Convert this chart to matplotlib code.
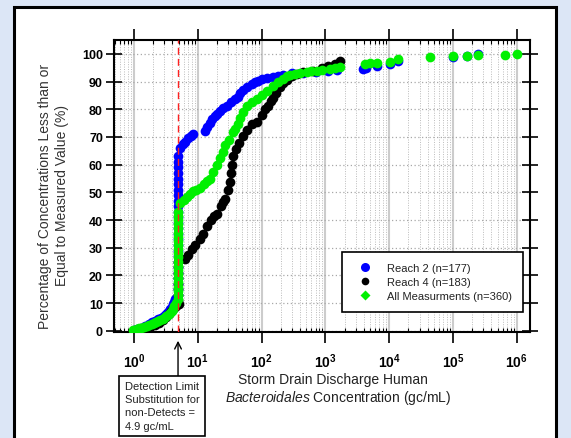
import matplotlib
matplotlib.use("Agg")
import matplotlib.pyplot as plt
import matplotlib.ticker as mticker
from matplotlib.lines import Line2D
from matplotlib.patches import Rectangle

# valeurs (concentration gc/mL, pourcentage cumule)
detection_limit = 4.9

reach2_low_conc = [1.0, 1.1, 1.3, 1.5, 1.7, 1.9, 2.1, 2.4, 2.65, 2.85, 3.1, 3.3, 3.5, 3.7, 3.9, 4.1, 4.3, 4.4]
reach2_low_pct = [0.5, 0.7, 1.2, 1.8, 2.5, 3.2, 3.7, 4.3, 4.7, 5.0, 5.8, 6.5, 7.2, 8.0, 8.8, 9.7, 10.6, 11.5]
reach2_nd_pct = [13, 15, 17, 19, 21, 23, 25, 27, 29, 31, 33, 35, 37, 39, 41, 43, 45, 47, 49, 51, 53, 55, 57, 59, 61, 63]
reach2_high_conc = [5.3, 5.9, 6.3, 7.0, 7.7, 8.4, 12.9, 14, 15.5, 17, 18.5, 20, 22, 25, 28.6, 33, 38, 42.7, 46, 52,
                    60, 70, 80, 88, 100, 120, 150, 180, 220, 300, 450, 700, 1100, 1500, 3900, 4300, 6500, 10200,
                    13800, 1.0e5, 1.66e5, 2.45e5]
reach2_high_pct = [66, 67.5, 68.2, 69.5, 70.5, 71.1, 72.2, 73.5, 75, 76.5, 77.5, 78.3, 79.5, 80.3, 81.2, 82.5, 83.8,
                   84.5, 86, 87, 88, 89, 89.8, 90.2, 90.8, 91.3, 91.8, 92, 92.5, 93, 93.2, 93.5, 93.8, 94.2, 94.6,
                   95, 95.6, 96.4, 97.3, 99.0, 99.4, 100]

reach4_low_conc = [1.2, 1.5, 1.8, 2.1, 2.5, 2.9, 3.2, 3.5, 3.8, 4.1, 4.4, 4.7, 5.0]
reach4_low_pct = [0.5, 1.0, 1.5, 2.2, 3.0, 4.0, 5.0, 6.0, 7.0, 7.8, 8.5, 9.2, 9.8]
reach4_nd_pct = [11, 13, 15, 17, 19, 21, 23, 25]
reach4_high_conc = [6.3, 7.0, 8.1, 9.2, 10.8, 12, 13.8, 16, 18, 20, 23, 25, 27, 30, 31.6, 33, 34.5, 35.5, 40, 45,
                    51, 60, 70, 85, 100, 115, 126, 140, 150, 170, 195, 220, 250, 300, 355, 450, 650, 900, 1100,
                    1400, 1700]
reach4_high_pct = [26, 27.5, 29.6, 31, 33, 35, 37.9, 40, 41.5, 42.2, 45, 46.5, 47.7, 51, 53.8, 57, 60, 63, 65.5,
                   68, 70.4, 72.5, 74.5, 75.5, 78, 80, 81.2, 83, 84, 86, 88, 89.5, 90.5, 92, 92.8, 93.4, 93.9,
                   94.8, 95.7, 96.5, 97.5]

all_low_conc = [0.95, 1.05, 1.1, 1.2, 1.3, 1.45, 1.6, 1.75, 1.9, 2.05, 2.2, 2.4, 2.6, 2.8, 3.0, 3.2, 3.45, 3.7,
                3.9, 4.1, 4.3, 4.5]
all_low_pct = [0.3, 0.5, 0.7, 0.9, 1.1, 1.3, 1.6, 2.0, 2.4, 2.8, 3.2, 3.6, 4.0, 4.4, 4.8, 5.3, 5.8, 6.5, 7.2, 8.0,
               9.0, 10.0]
all_nd_pct = [11.5, 13, 14.5, 16, 17.5, 19, 20.5, 22, 23.5, 25, 26.5, 28, 29.5, 31, 32.5, 34, 35.5, 37, 38.5, 40,
              41.5, 43]
all_high_conc = [5.3, 6.0, 6.8, 7.6, 8.5, 9.5, 10.7, 12.5, 14, 15.5, 17.4, 20, 22, 24.5, 27, 31, 35.5, 38.5, 42,
                 46, 51, 60, 70, 85, 100, 120, 150, 180, 215, 250, 280, 330, 400, 510, 600, 740, 900, 1170, 1400,
                 1700, 4200, 5000, 6450, 10200, 13800, 43600, 1.0e5, 1.66e5, 2.45e5, 6.5e5, 1.0e6]
all_high_pct = [46, 47.3, 48.4, 49.5, 50.5, 51, 51.5, 53, 54, 54.9, 57.4, 60, 62.5, 64.6, 67, 69, 71.8, 73, 74.5,
                77, 79, 81, 82.5, 83.8, 85, 86.5, 88.4, 89.8, 91, 92, 92.3, 92.6, 93, 93.5, 93.7, 93.9, 94.2,
                94.6, 94.9, 95.3, 96.4, 96.6, 96.8, 97.1, 98.2, 98.9, 99.2, 99.3, 99.5, 99.6, 100]

xtick_vals = [1, 10, 100, 1e3, 1e4, 1e5, 1e6]
xtick_labels = [r"$\mathbf{10^{%d}}$" % i for i in range(7)]
ytick_vals = [0, 10, 20, 30, 40, 50, 60, 70, 80, 90, 100]
legend_labels = ["Reach 2 (n=177)", "Reach 4 (n=183)", "All Measurments (n=360)"]

plt.rcParams["font.family"] = ["Liberation Sans", "DejaVu Sans"]
plt.rcParams["mathtext.fontset"] = "custom"
plt.rcParams["mathtext.rm"] = "Liberation Sans"
plt.rcParams["mathtext.it"] = "Liberation Sans:italic"
plt.rcParams["mathtext.bf"] = "Liberation Sans:bold"

fig = plt.figure(figsize=(5.71, 4.39), dpi=100)
fig.patch.set_facecolor("#dce6f6")
fig.patches.append(Rectangle((14 / 571, -0.1), 542 / 571, 1.1 - 8 / 439, transform=fig.transFigure,
                             fc="white", ec="black", lw=2.2, zorder=-5))

ax = fig.add_axes([114 / 571, 1 - 333 / 439, 416 / 571, 292 / 439])
ax.set_xscale("log")
ax.set_xlim(0.486, 1.61e6)
ax.set_ylim(-0.4, 105)

ms = 7
def plot_series(low_c, low_p, nd_p, high_c, high_p, color, z):
    xs = low_c + [detection_limit] * len(nd_p) + high_c
    ys = low_p + nd_p + high_p
    ax.plot(xs, ys, ls="none", marker="o", ms=ms, mfc=color, mec="none", zorder=z)

plot_series(reach2_low_conc, reach2_low_pct, reach2_nd_pct, reach2_high_conc, reach2_high_pct, "#0000ff", 3)
plot_series(reach4_low_conc, reach4_low_pct, reach4_nd_pct, reach4_high_conc, reach4_high_pct, "#000000", 4)
plot_series(all_low_conc, all_low_pct, all_nd_pct, all_high_conc, all_high_pct, "#00f000", 5)

ax.axvline(detection_limit, color="#ff2020", ls=(0, (5, 3)), lw=1, zorder=6)

# axes et grille
ax.set_xticks(xtick_vals, labels=xtick_labels)
ax.xaxis.set_minor_locator(mticker.LogLocator(base=10, subs=[2, 3, 4, 5, 6, 7, 8, 9], numticks=20))
ax.xaxis.set_minor_formatter(mticker.NullFormatter())
ax.set_yticks(ytick_vals)
for lab in ax.get_yticklabels():
    lab.set_fontweight("bold")
ax.tick_params(axis="x", which="major", direction="out", length=8, width=1.2, top=True, labelsize=10, pad=6)
ax.tick_params(axis="x", which="minor", direction="in", length=3, width=0.8, top=True)
ax.tick_params(axis="y", which="major", direction="inout", length=12, width=1.2, right=True, labelsize=9, pad=2)
ax.grid(which="major", axis="x", color="#cccccc", lw=1.5, ls="-", zorder=0)
ax.grid(which="minor", axis="x", color="#bbbbbb", lw=0.7, ls=(0, (1, 1.5)), zorder=0)
ax.grid(which="major", axis="y", color="#a8a8a8", lw=0.9, ls=(0, (1, 2)), zorder=0)
for sp in ax.spines.values():
    sp.set_linewidth(1.5)

fig.text(333 / 571, 1 - 380 / 439, "Storm Drain Discharge Human", ha="center", va="center", fontsize=10,
         color="#222222")
fig.text(338 / 571, 1 - 398 / 439, r"$\mathit{Bacteroidales}$ Concentration (gc/mL)", ha="center",
         va="center", fontsize=10, color="#222222")
fig.text(53.5 / 571, 1 - 196 / 439, "Percentage of Concentrations Less than or\nEqual to Measured Value (%)",
         rotation=90, ha="center", va="center", multialignment="center", fontsize=10, linespacing=1.2,
         color="#333333")

handles = [
    Line2D([], [], ls="none", marker="o", ms=6.5, mfc="#0000ff", mec="none"),
    Line2D([], [], ls="none", marker="o", ms=5.5, mfc="#000000", mec="none"),
    Line2D([], [], ls="none", marker="D", ms=5, mfc="#00f000", mec="none"),
]
leg = ax.legend(handles, legend_labels, loc="upper right", bbox_to_anchor=(0.983, 0.274), borderaxespad=0,
                fancybox=False, framealpha=1, edgecolor="black", fontsize=8, borderpad=1.0, handlelength=2,
                handletextpad=1.0, labelspacing=0.35)
leg.get_frame().set_linewidth(1.2)
for t in leg.get_texts():
    t.set_color("#222222")

ax.annotate("", xy=(detection_limit, -0.03), xycoords=ax.get_xaxis_transform(),
            xytext=(detection_limit, -0.155), textcoords=ax.get_xaxis_transform(),
            arrowprops=dict(arrowstyle="->", color="black", lw=1, shrinkA=0, shrinkB=0, mutation_scale=12),
            annotation_clip=False)
ax.text(0.026, -0.168, "Detection Limit\nSubstitution for\nnon-Detects =\n4.9 gc/mL", transform=ax.transAxes,
        ha="left", va="top", fontsize=8, linespacing=1.4, color="#222222",
        bbox=dict(boxstyle="square,pad=0.5", fc="white", ec="black", lw=1.2))

fig.savefig("out.png", dpi=100)
